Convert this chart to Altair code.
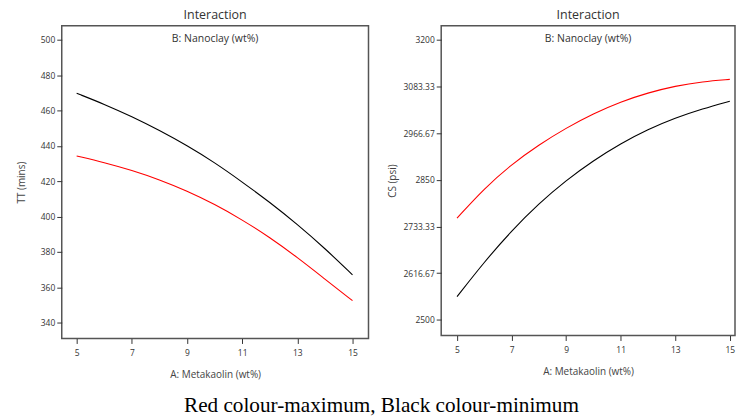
import altair as alt
import pandas as pd

# A: Metakaolin (wt%)
metakaolin = [5, 6, 7, 8, 9, 10, 11, 12, 13, 14, 15]
# TT (mins)
tt_max = [434.3, 430.6, 426.2, 420.9, 414.5, 407.0, 398.2, 388.2, 376.9, 364.6, 352.4]
tt_min = [469.8, 463.6, 456.6, 448.8, 440.2, 430.6, 419.6, 408.1, 395.6, 382.0, 367.0]
# CS (psi)
cs_max = [2754.5, 2829.0, 2889.0, 2938.0, 2980.0, 3016.0, 3045.5, 3068.0, 3085.0, 3096.0, 3101.5]
cs_min = [2558.0, 2645.0, 2723.0, 2791.0, 2849.0, 2898.5, 2941.0, 2976.5, 3005.0, 3028.0, 3047.0]

series = ["Maximum", "Minimum"]
series_colors = ["#ff0000", "#000000"]

x_ticks = [5, 7, 9, 11, 13, 15]
tt_ticks = [340, 360, 380, 400, 420, 440, 460, 480, 500]
cs_ticks = [2500, 2616.67, 2733.33, 2850, 2966.67, 3083.33, 3200]

panel_title = "Interaction"
subtitle = "B: Nanoclay (wt%)"
x_title = "A: Metakaolin (wt%)"
caption = "Red colour-maximum, Black colour-minimum"

FONT = "Open Sans"


def long_df(max_vals, min_vals):
    rows = []
    for a, v in zip(metakaolin, max_vals):
        rows.append({"A": a, "v": v, "B": series[0]})
    for a, v in zip(metakaolin, min_vals):
        rows.append({"A": a, "v": v, "B": series[1]})
    return pd.DataFrame(rows)


def panel(df, ytitle, ydom, yticks, yfmt, ytp, xdom, w, h, extra=None):
    lines = alt.Chart(df).mark_line(strokeWidth=1.1, interpolate="basis").encode(
        x=alt.X("A:Q",
                scale=alt.Scale(domain=xdom, nice=False, zero=False),
                axis=alt.Axis(values=x_ticks, title=x_title, labelPadding=5,
                              titlePadding=13)),
        y=alt.Y("v:Q",
                scale=alt.Scale(domain=ydom, nice=False, zero=False),
                axis=alt.Axis(values=yticks, title=ytitle, format=yfmt,
                              titlePadding=ytp)),
        color=alt.Color("B:N", scale=alt.Scale(domain=series, range=series_colors),
                        legend=None),
    )
    sub = alt.Chart(pd.DataFrame({"t": [subtitle]})).mark_text(
        font=FONT, fontSize=10.5, color="#333", baseline="middle", align="center"
    ).encode(x=alt.value(w / 2), y=alt.value(13), text="t:N")
    layers = [lines, sub]
    if extra is not None:
        layers.append(extra)
    return alt.layer(*layers).properties(
        width=w, height=h,
        title=alt.TitleParams(panel_title, font=FONT, fontSize=12.5, fontWeight="normal",
                              color="#333", offset=4),
    )


cap = alt.Chart(pd.DataFrame({"t": [caption]})).mark_text(
    font="Liberation Serif", fontSize=21.3, color="#000", baseline="alphabetic",
    align="center"
).encode(x=alt.value(321), y=alt.value(388), text="t:N")

left = panel(long_df(tt_max, tt_min), "TT (mins)", [331, 508], tt_ticks, "d", 14,
             [4.46, 15.58], 308, 314, extra=cap)
right = panel(long_df(cs_max, cs_min), "CS (psi)", [2461, 3235.6], cs_ticks, ".2~f", 5,
              [4.42, 15.19], 295, 311)

chart = alt.hconcat(left, right, spacing=73, bounds="flush").properties(
    padding={"left": 15, "top": 7, "right": 0, "bottom": 0},
).configure_view(
    stroke="#555", strokeWidth=1.5
).configure_axis(
    labelFont=FONT, labelFontSize=8.5, labelColor="#333",
    tickColor="#333", tickSize=5, tickWidth=1, domain=False, grid=False,
    titleFont=FONT, titleFontSize=10, titleColor="#444", titleFontWeight="normal",
    labelPadding=2,
)

chart.save("out.html", embed_options={"renderer": "svg", "actions": False})
